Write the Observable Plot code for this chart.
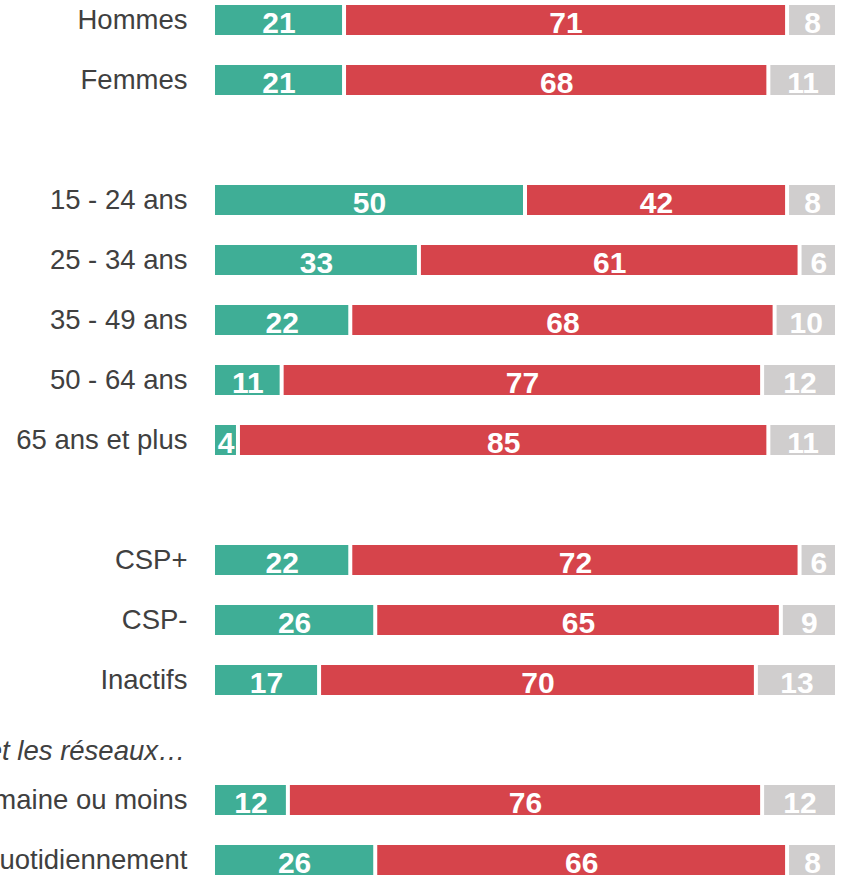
<!DOCTYPE html>
<html>
<head>
<meta charset="utf-8">
<script src="https://cdn.jsdelivr.net/npm/d3@7"></script>
<script src="https://cdn.jsdelivr.net/npm/@observablehq/plot@0.6"></script>
<style>
  html, body { margin: 0; padding: 0; background: #fff; }
  #chart { width: 846px; height: 875px; overflow: hidden; }
</style>
</head>
<body>
<div id="chart"></div>
<script>
// Row keys (in display order; blank rows are spacers)
const rows = ["Hommes", "Femmes", "_sp1",
  "15 - 24 ans", "25 - 34 ans", "35 - 49 ans", "50 - 64 ans", "65 ans et plus", "_sp2",
  "CSP+", "CSP-", "Inactifs", "_hdr",
  "Une fois par semaine ou moins", "Quotidiennement"];
const categories = ["Oui", "Non", "NSP"];
const colors = ["#3fae96", "#d6444b", "#d0cece"];
const barLabels = ["Hommes", "Femmes", "15 - 24 ans", "25 - 34 ans", "35 - 49 ans", "50 - 64 ans",
  "65 ans et plus", "CSP+", "CSP-", "Inactifs", "Une fois par semaine ou moins", "Quotidiennement"];
const oui = [21, 21, 50, 33, 22, 11, 4, 22, 26, 17, 12, 26];
const non = [71, 68, 42, 61, 68, 77, 85, 72, 65, 70, 76, 66];
const nsp = [8, 11, 8, 6, 10, 12, 11, 6, 9, 13, 12, 8];
const header = "Utilisent internet et les réseaux…";

const data = [];
barLabels.forEach((label, i) => {
  [oui[i], non[i], nsp[i]].forEach((v, j) => data.push({label, cat: categories[j], value: v}));
});

const font = '"Liberation Sans", Arial, Helvetica, sans-serif';

const chart = Plot.plot({
  width: 846,
  height: 875,
  marginLeft: 213,
  marginRight: 9,
  marginTop: 0,
  marginBottom: 0,
  style: {fontFamily: font, background: "#fff", overflow: "hidden"},
  x: {domain: [0, 100], axis: null},
  y: {type: "band", domain: rows, range: [-10, 890], padding: 0, axis: null, label: null},
  color: {domain: categories, range: colors},
  marks: [
    Plot.axisY({
      label: null,
      tickSize: 0,
      tickPadding: 26,
      fontSize: 27.5,
      fill: "#404040",
      tickFormat: d => d.startsWith("_") ? "" : d
    }),
    Plot.text([header], {
      y: () => "_hdr",
      text: d => d,
      frameAnchor: "left",
      textAnchor: "end",
      dx: -28,
      dy: 11,
      fontSize: 27.5,
      fontStyle: "italic",
      fill: "#404040"
    }),
    Plot.barX(data, Plot.stackX({
      x: "value", y: "label", fill: "cat", order: categories,
      insetLeft: 2, insetRight: 2, insetTop: 15, insetBottom: 15
    })),
    Plot.text(data, Plot.stackX({
      x: "value", y: "label", z: "cat", order: categories,
      text: d => String(d.value),
      fill: "white",
      fontSize: 30,
      fontWeight: "bold",
      dy: 3
    }))
  ]
});

document.getElementById("chart").appendChild(chart);
</script>
</body>
</html>
